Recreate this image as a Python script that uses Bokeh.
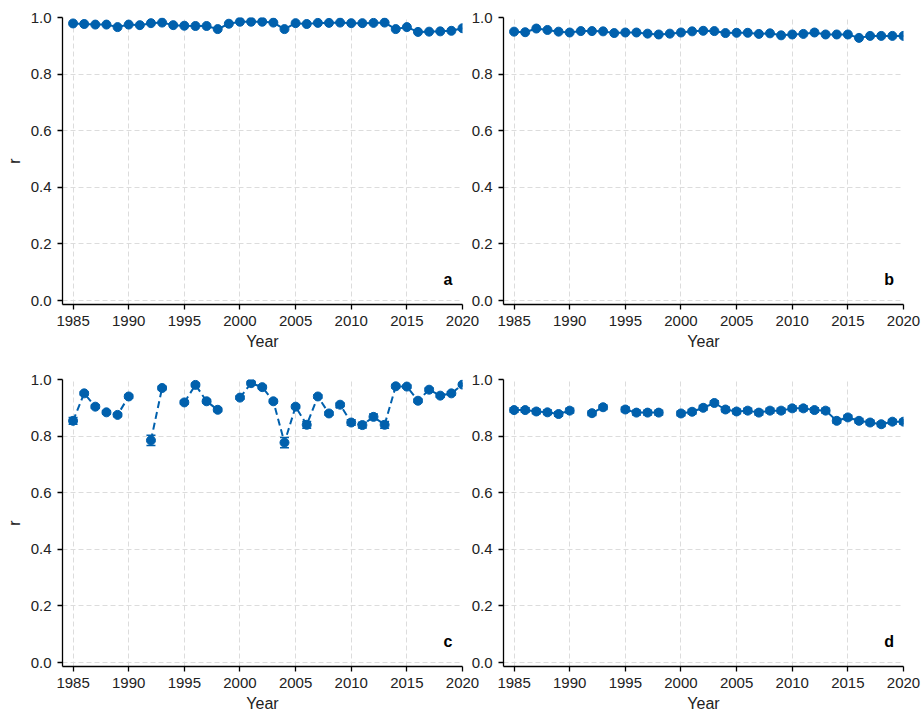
import numpy as np
from bokeh.plotting import figure
from bokeh.layouts import row, column
from bokeh.models import (Range1d, FixedTicker, NumeralTickFormatter, Label,
                          ColumnDataSource, Whisker, TeeHead)
from bokeh.embed import file_html
from bokeh.resources import INLINE

nan = float("nan")

years = list(range(1985, 2021))
x_ticks = [1985, 1990, 1995, 2000, 2005, 2010, 2015, 2020]
y_ticks = [0.0, 0.2, 0.4, 0.6, 0.8, 1.0]

r_a = [0.979, 0.977, 0.975, 0.975, 0.966, 0.975, 0.973, 0.980, 0.982, 0.973,
       0.971, 0.970, 0.970, 0.959, 0.978, 0.985, 0.985, 0.985, 0.982, 0.959,
       0.980, 0.977, 0.981, 0.981, 0.982, 0.980, 0.980, 0.981, 0.982, 0.959,
       0.966, 0.949, 0.950, 0.951, 0.953, 0.962]

r_b = [0.950, 0.948, 0.961, 0.956, 0.950, 0.947, 0.952, 0.952, 0.951, 0.945,
       0.947, 0.947, 0.943, 0.940, 0.943, 0.947, 0.951, 0.953, 0.952, 0.945,
       0.946, 0.946, 0.942, 0.944, 0.937, 0.940, 0.942, 0.947, 0.940, 0.940,
       0.940, 0.928, 0.935, 0.935, 0.935, 0.935]

r_c = [0.854, 0.951, 0.904, 0.884, 0.875, 0.940, nan, 0.785, 0.970, nan,
       0.919, 0.981, 0.923, 0.893, nan, 0.936, 0.987, 0.973, 0.923, 0.777,
       0.904, 0.840, 0.940, 0.880, 0.911, 0.848, 0.839, 0.868, 0.840, 0.976,
       0.975, 0.925, 0.964, 0.943, 0.951, 0.982]
err_c = [0.012, 0.006, 0.006, 0.006, 0.006, 0.006, nan, 0.018, 0.006, nan,
         0.006, 0.006, 0.006, 0.006, nan, 0.006, 0.006, 0.006, 0.006, 0.018,
         0.006, 0.012, 0.006, 0.006, 0.006, 0.010, 0.010, 0.010, 0.012, 0.006,
         0.006, 0.006, 0.006, 0.006, 0.006, 0.006]

r_d = [0.892, 0.892, 0.887, 0.884, 0.878, 0.890, nan, 0.881, 0.902, nan,
       0.894, 0.883, 0.883, 0.883, nan, 0.880, 0.886, 0.900, 0.917, 0.894,
       0.887, 0.890, 0.883, 0.890, 0.890, 0.898, 0.898, 0.892, 0.890, 0.854,
       0.866, 0.854, 0.848, 0.842, 0.851, 0.851]
err_d = [0.008] * 36

BLUE = "#0060AD"
FONT = "Liberation Sans"


def make_panel(vals, err, dashed, letter, ylabel, bl, bt, bb, transparent):
    p = figure(frame_width=400, frame_height=287,
               x_range=Range1d(1984.05, 2020), y_range=Range1d(-0.014, 1.0),
               output_backend="svg", toolbar_location=None,
               min_border_left=bl, min_border_right=18 if transparent else 20,
               min_border_top=bt, min_border_bottom=bb)
    p.outline_line_color = None
    if transparent:
        p.border_fill_color = None
    p.background_fill_color = "white"

    for ax in (p.xaxis[0], p.yaxis[0]):
        ax.axis_line_color = "black"
        ax.axis_line_width = 1.3
        ax.major_tick_line_color = "black"
        ax.major_tick_line_width = 1.3
        ax.major_tick_out = 5
        ax.major_tick_in = 0
        ax.minor_tick_line_color = None
        ax.major_label_text_font = FONT
        ax.major_label_text_font_size = "15px"
        ax.major_label_text_color = "#222222"
        ax.major_label_text_line_height = 1.0
        ax.axis_label_text_font = FONT
        ax.axis_label_text_font_size = "16px"
        ax.axis_label_text_font_style = "normal"
        ax.axis_label_text_color = "#222222"
        ax.axis_label_text_line_height = 1.0
    p.xaxis.ticker = FixedTicker(ticks=x_ticks)
    p.yaxis.ticker = FixedTicker(ticks=y_ticks)
    p.yaxis.formatter = NumeralTickFormatter(format="0.0")
    p.xaxis.axis_label = "Year"
    p.xaxis.axis_label_standoff = 4
    p.xaxis.major_label_standoff = 6
    p.yaxis.major_label_standoff = 6
    if ylabel:
        p.yaxis.axis_label = "r"
        p.yaxis.axis_label_standoff = 5

    for g in (p.xgrid[0], p.ygrid[0]):
        g.grid_line_color = "#dcdcdc"
        g.grid_line_dash = "5 3"
        g.grid_line_width = 1

    src = ColumnDataSource(dict(x=years, y=vals))
    p.line("x", "y", source=src, line_color=BLUE, line_width=2,
           line_dash="7 4" if dashed else "solid")
    if err is not None:
        xs, lo, hi = [], [], []
        for yr, v, e in zip(years, vals, err):
            if not (np.isnan(v) or np.isnan(e)):
                xs.append(yr)
                lo.append(v - e)
                hi.append(v + e)
        wsrc = ColumnDataSource(dict(x=xs, lower=lo, upper=hi))
        w = Whisker(source=wsrc, base="x", lower="lower", upper="upper",
                    dimension="height", line_color=BLUE, line_width=1.5,
                    upper_head=TeeHead(size=9, line_color=BLUE, line_width=1.5),
                    lower_head=TeeHead(size=9, line_color=BLUE, line_width=1.5),
                    level="glyph")
        p.add_layout(w)
    p.scatter("x", "y", source=src, size=9, marker="circle",
              fill_color=BLUE, line_color=BLUE)

    p.add_layout(Label(x=2018.7, y=0.075, text=letter, text_font=FONT,
                       text_font_size="16px", text_font_style="bold",
                       text_align="center", text_baseline="middle",
                       text_color="black"))
    return p


pa = make_panel(r_a, None, False, "a", True, 62, 17, 66, False)
pb = make_panel(r_b, None, False, "b", False, 34, 17, 66, True)
pc = make_panel(r_c, err_c, True, "c", True, 62, 9, 48, False)
pd = make_panel(r_d, err_d, False, "d", False, 34, 9, 48, True)

pb.margin = (0, 0, 0, -14)
pd.margin = (0, 0, 0, -14)

layout = column(row(pa, pb), row(pc, pd))

open("out.html", "w").write(file_html(layout, INLINE))
